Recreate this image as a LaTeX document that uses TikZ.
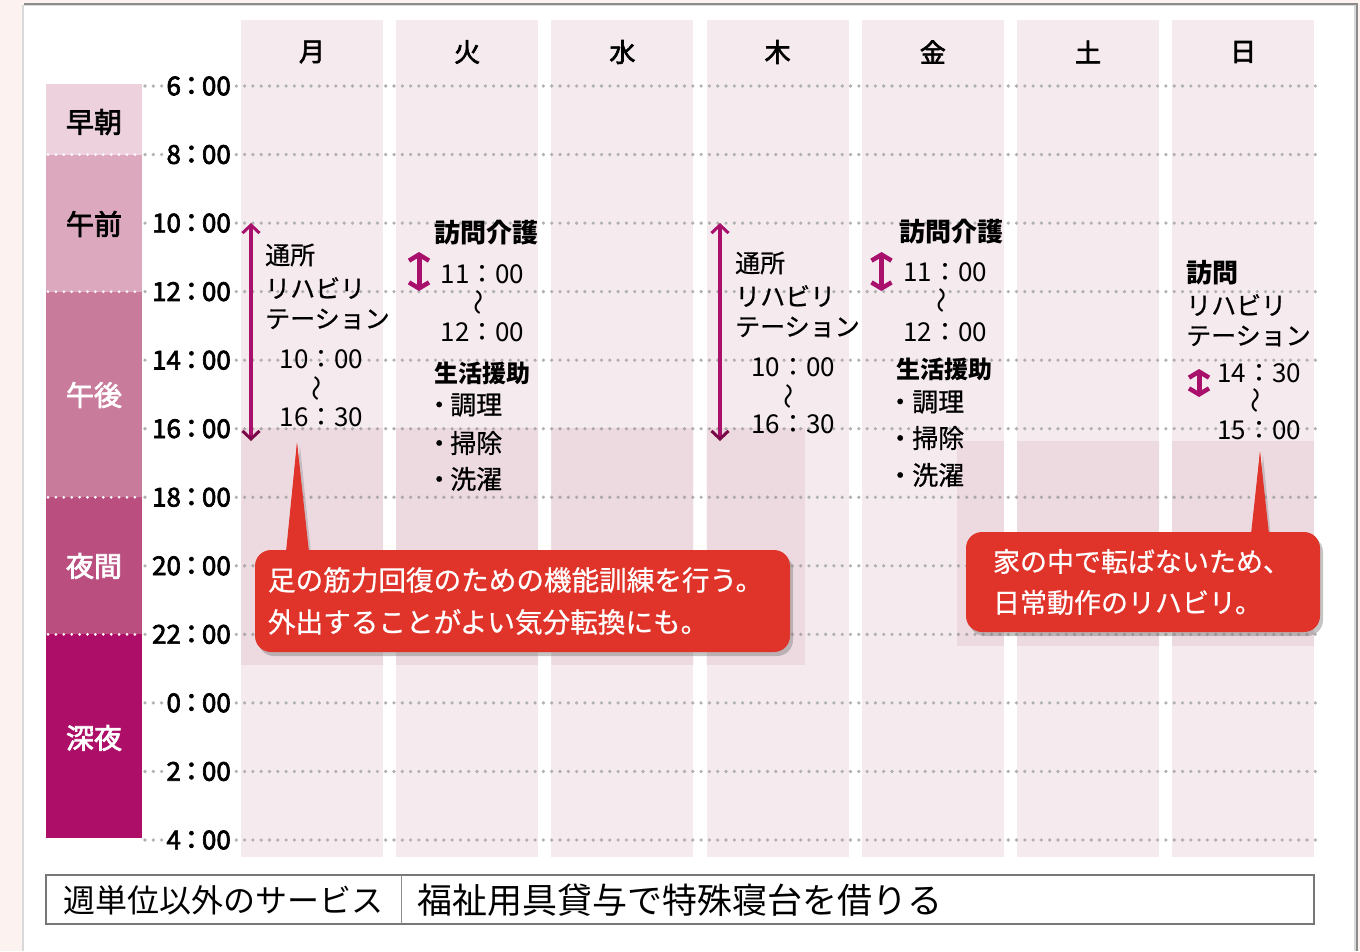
\documentclass[tikz,border=0pt]{standalone}
\usepackage{fontspec}
\setmainfont{Noto Sans CJK JP}
\newfontfamily\mdfont[FakeBold=2.6]{Noto Sans CJK JP}
\newfontfamily\smfont[FakeBold=0.7]{Noto Sans CJK JP}
\usetikzlibrary{arrows.meta,shadows}
\definecolor{outerbg}{HTML}{FCF3F0}
\definecolor{colbg}{HTML}{F5EAEE}
\definecolor{bandA}{HTML}{EDD2DE}
\definecolor{bandB}{HTML}{DCA8BE}
\definecolor{bandC}{HTML}{C97B9C}
\definecolor{bandD}{HTML}{B94E7F}
\definecolor{bandE}{HTML}{AC0E68}
\definecolor{mag}{HTML}{A8106C}
\definecolor{magdark}{HTML}{7A0848}
\definecolor{calred}{HTML}{E0332A}
\definecolor{dotgray}{HTML}{B0B0B0}
\definecolor{tblgray}{HTML}{777777}
\definecolor{ovlcol}{RGB}{150,60,90}
\newcommand{\fsz}[2]{\fontsize{#1}{#2}\selectfont}
\newcommand{\tcol}{\hspace{-2.5pt}：\hspace{-2.5pt}}
\begin{document}
\begin{tikzpicture}[x=1pt,y=-1pt,
  dotline/.style={draw=dotgray, line width=3.6pt, line cap=round, dash pattern=on 0pt off 8.3pt},
  whitedot/.style={draw=white, line width=3pt, line cap=round, dash pattern=on 0pt off 7.9pt},
  timelbl/.style={anchor=east, fill=white, inner xsep=3pt, inner ysep=1pt, font=\mdfont\fsz{26}{26}},
  daylbl/.style={inner sep=0pt, font=\mdfont\fsz{26}{26}},
  bandlbl/.style={inner sep=0pt, font=\mdfont\fsz{28}{28}},
  evt/.style={anchor=west, inner sep=0pt, font=\smfont\fsz{25}{25}},
  evtb/.style={anchor=west, inner sep=0pt, font=\fsz{26}{26}\bfseries},
  evtbs/.style={anchor=west, inner sep=0pt, font=\fsz{24}{24}\bfseries},
  item/.style={anchor=west, inner sep=0pt, font=\smfont\fsz{26}{26}},
  tm/.style={inner sep=0pt, font=\fsz{26}{26}},
  wave/.style={inner sep=0pt, rotate=90, font=\fsz{26}{26}},
  longarr/.style={draw=mag, line width=3.8pt,
    {Straight Barb[length=8pt,width=17pt,line width=3pt]}-{Straight Barb[length=8pt,width=17pt,line width=3pt,color=magdark]}},
  shortarr/.style={draw=mag, line width=5pt,
    {Straight Barb[length=6pt,width=20pt,line width=4.5pt]}-{Straight Barb[length=6pt,width=20pt,line width=4.5pt]}},
  ovl/.style={fill=ovlcol, fill opacity=0.09},
  callout/.style={fill=calred, rounded corners=16pt, text=white, align=left, inner ysep=0pt,
    drop shadow={shadow xshift=3pt, shadow yshift=-4pt, opacity=0.45}},
  pointer/.style={fill=calred, drop shadow={shadow xshift=3pt, shadow yshift=-3pt, opacity=0.35}},
  tbltext/.style={anchor=west, inner sep=0pt}
]
\useasboundingbox (0,0) rectangle (1360,951);
% background and card
\fill[outerbg] (0,0) rectangle (1360,951);
\fill[black!45] (24,3) rectangle (1358,951);
\fill[black!15] (22,5) rectangle (1356,951);
\fill[white] (24,6) rectangle (1354,951);

% day columns
\foreach \i in {0,...,6} \fill[colbg] ({241+\i*155.2},20) rectangle ++(142,837);

% left time bands
\fill[bandA] (46,84) rectangle (142,154.6);
\fill[bandB] (46,154.6) rectangle (142,291.7);
\fill[bandC] (46,291.7) rectangle (142,497.3);
\fill[bandD] (46,497.3) rectangle (142,634.4);
\fill[bandE] (46,634.4) rectangle (142,838);
\foreach \yy in {154.6,291.7,497.3,634.4} \draw[whitedot] (48,\yy) -- (142,\yy);
\node[bandlbl] (bn1) at (94,122) {早朝};
\node[bandlbl] (bn2) at (94,224) {午前};
\node[bandlbl, text=white] (bn3) at (94,395) {午後};
\node[bandlbl, text=white] (bn4) at (94,566) {夜間};
\node[bandlbl, text=white] (bn5) at (94,738) {深夜};

% grid lines and time labels
\foreach \lbl [count=\k from 0] in {6,8,10,12,14,16,18,20,22,0,2,4} {
  \pgfmathsetmacro{\yy}{86+\k*68.545}
  \draw[dotline] (145,\yy) -- (1320,\yy);
  \node[timelbl] (t\k) at (234,\yy) {\lbl\tcol 00};
}

% day labels
\foreach \d [count=\i from 0] in {月,火,水,木,金,土,日}
  \node[daylbl] (d\i) at ({312+\i*155.2},52) {\d};

% darker overlay behind callouts
\begin{scope}
\clip (241,20) rectangle ++(142,837)
      (396.2,20) rectangle ++(142,837)
      (551.4,20) rectangle ++(142,837)
      (706.6,20) rectangle ++(142,837)
      (861.8,20) rectangle ++(142,837)
      (1017,20) rectangle ++(142,837)
      (1172.2,20) rectangle ++(142,837);
\fill[ovl] (241,428) rectangle (805,665);
\fill[ovl] (957,441) rectangle (1314,646);
\end{scope}

% Monday
\coordinate (ma) at (251,223);
\coordinate (mb) at (251,441);
\draw[longarr] (ma) -- (mb);
\node[evt] (mo1) at (265,255) {通所};
\node[evt] (mo2) at (265,288) {リハビリ};
\node[evt] (mo3) at (265,319) {テーション};
\node[tm] (mo4) at (321.5,359) {10：00};
\node[wave] (mo5) at (320,388) {～};
\node[tm] (mo6) at (321.5,417) {16：30};

% Tuesday
\coordinate (ta) at (419,252);
\coordinate (tb) at (419,291);
\draw[shortarr] (ta) -- (tb);
\node[evtb] (tu1) at (434,233) {訪問介護};
\node[tm] (tu2) at (482.5,274) {11：00};
\node[wave] (tu3) at (482,302) {～};
\node[tm] (tu4) at (482.5,332) {12：00};
\node[evtbs] (tu5) at (434,373) {生活援助};
\node[item] (tu6) at (428,405) {\makebox[22pt]{・}調理};
\node[item] (tu7) at (428,443) {\makebox[22pt]{・}掃除};
\node[item] (tu8) at (428,479) {\makebox[22pt]{・}洗濯};

% Thursday
\coordinate (ha) at (720,223);
\coordinate (hb) at (720,441);
\draw[longarr] (ha) -- (hb);
\node[evt] (th1) at (735,263) {通所};
\node[evt] (th2) at (735,296) {リハビリ};
\node[evt] (th3) at (735,327) {テーション};
\node[tm] (th4) at (793,367) {10：00};
\node[wave] (th5) at (792,396) {～};
\node[tm] (th6) at (793,424) {16：30};

% Friday
\coordinate (fa) at (881.5,252);
\coordinate (fb) at (881.5,291);
\draw[shortarr] (fa) -- (fb);
\node[evtb] (fr1) at (899,232) {訪問介護};
\node[tm] (fr2) at (945,272) {11：00};
\node[wave] (fr3) at (945,300) {～};
\node[tm] (fr4) at (945,332) {12：00};
\node[evtbs] (fr5) at (896,369) {生活援助};
\node[item] (fr6) at (888,402) {\makebox[24pt]{・}調理};
\node[item] (fr7) at (888,438) {\makebox[24pt]{・}掃除};
\node[item] (fr8) at (888,475) {\makebox[24pt]{・}洗濯};

% Sunday
\coordinate (sa) at (1199,369);
\coordinate (sb) at (1199,397);
\draw[shortarr] (sa) -- (sb);
\node[evtb] (su1) at (1186,273) {訪問};
\node[evt] (su2) at (1186,305) {リハビリ};
\node[evt] (su3) at (1186,336) {テーション};
\node[tm] (su4) at (1259,373) {14：30};
\node[wave] (su5) at (1259,400) {～};
\node[tm] (su6) at (1259,430) {15：00};

% callout 1
\coordinate (p1) at (297,443);
\fill[pointer] (286,560) -- (p1) -- (309,560) -- cycle;
\node[callout, text width=509pt, inner xsep=13pt, minimum height=102pt,
      font=\smfont\fsz{27.6}{42}] (c1) at (522.5,601)
  {足の筋力回復のための機能訓練を行う。\\外出することがよい気分転換にも。};
\fill[calred] (286,552) -- (p1) -- (309,552) -- cycle;

% callout 2
\coordinate (p2) at (1260,452);
\fill[pointer] (1251,545) -- (p2) -- (1269,545) -- cycle;
\node[callout, text width=300pt, inner xsep=27pt, minimum height=100pt,
      font=\smfont\fsz{27}{41}] (c2) at (1143,582)
  {家の中で転ばないため、\\日常動作のリハビリ。};
\fill[calred] (1251,534) -- (p2) -- (1269,534) -- cycle;

% bottom table
\draw[tblgray, line width=2pt] (46,875) rectangle (1314,924);
\draw[black!45, line width=1pt] (401,875) -- (401,924);
\node[tbltext, font=\fsz{32}{32}] (tb1) at (63,900) {週単位以外のサービス};
\node[tbltext, font=\fsz{35}{35}] (tb2) at (417,900) {福祉用具貸与で特殊寝台を借りる};
\end{tikzpicture}
\end{document}
